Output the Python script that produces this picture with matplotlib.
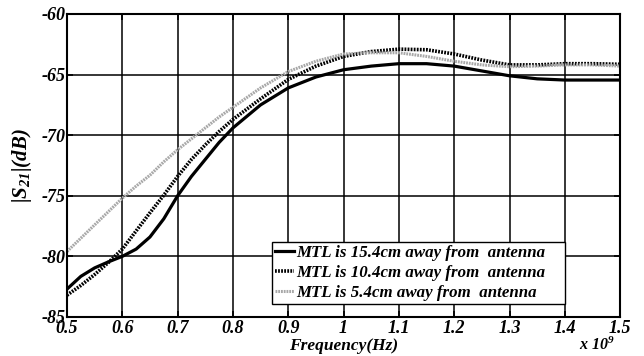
import numpy as np
import matplotlib
matplotlib.use("Agg")
import matplotlib.pyplot as plt

plt.rcParams['font.family'] = ['Liberation Serif', 'DejaVu Serif']
plt.rcParams['font.weight'] = 'bold'
plt.rcParams['font.style'] = 'italic'
plt.rcParams['axes.unicode_minus'] = False
plt.rcParams['mathtext.fontset'] = 'custom'
plt.rcParams['mathtext.rm'] = 'Liberation Serif:bold:italic'
plt.rcParams['mathtext.it'] = 'Liberation Serif:bold:italic'
plt.rcParams['mathtext.bf'] = 'Liberation Serif:bold:italic'

# frequency in GHz (axis shown as x 10^9 Hz)
freq = [0.500, 0.525, 0.550, 0.575, 0.600, 0.625, 0.650, 0.675, 0.700, 0.725, 0.750,
        0.775, 0.800, 0.850, 0.900, 0.950, 1.000, 1.050, 1.100, 1.150, 1.200, 1.250,
        1.300, 1.350, 1.400, 1.450, 1.500]
s21_154 = [-82.7, -81.65, -80.95, -80.45, -80.0, -79.4, -78.4, -76.9, -75.0, -73.4, -72.0,
           -70.6, -69.4, -67.5, -66.1, -65.2, -64.6, -64.3, -64.1, -64.1, -64.3, -64.7,
           -65.1, -65.35, -65.45, -65.45, -65.45]
s21_104 = [-83.2, -82.4, -81.5, -80.5, -79.4, -77.9, -76.4, -74.95, -73.4, -72.0, -70.8,
           -69.7, -68.7, -67.0, -65.4, -64.3, -63.5, -63.1, -62.9, -62.95, -63.3, -63.8,
           -64.2, -64.2, -64.1, -64.1, -64.15]
s21_54 = [-79.6, -78.5, -77.4, -76.3, -75.2, -74.2, -73.3, -72.2, -71.2, -70.3, -69.4,
          -68.5, -67.7, -66.1, -64.75, -63.9, -63.3, -63.2, -63.2, -63.5, -63.9, -64.2,
          -64.35, -64.3, -64.2, -64.2, -64.3]
labels = ["MTL is 15.4cm away from  antenna",
          "MTL is 10.4cm away from  antenna",
          "MTL is 5.4cm away from  antenna"]
xticks = [0.5, 0.6, 0.7, 0.8, 0.9, 1.0, 1.1, 1.2, 1.3, 1.4, 1.5]
xticklabels = ["0.5", "0.6", "0.7", "0.8", "0.9", "1", "1.1", "1.2", "1.3", "1.4", "1.5"]
yticks = [-85, -80, -75, -70, -65, -60]

fig = plt.figure(figsize=(6.44, 3.56), dpi=100)
ax = fig.add_axes([0.104, 0.1096, 0.859, 0.8511])

ax.plot(freq, s21_154, color='black', linewidth=2.3, label=labels[0])
ax.plot(freq, s21_104, color='black', linewidth=2.6, linestyle=(0, (0.5, 0.35)), label=labels[1])
ax.plot(freq, s21_54, color='#a8a8a8', linewidth=2.2, linestyle=(0, (0.6, 0.3)), label=labels[2])

ax.set_xlim(0.5, 1.5)
ax.set_ylim(-85, -60)
ax.set_xticks(xticks)
ax.set_xticklabels(xticklabels)
ax.set_yticks(yticks)
ax.grid(True, color='black', linewidth=1.1, linestyle='-')
ax.set_axisbelow(True)
for s in ax.spines.values():
    s.set_linewidth(1.5)
ax.tick_params(direction='in', length=4, width=1.2, top=True, right=True,
               labelsize=13, pad=2)
ax.tick_params(axis='y', pad=1)

ax.set_xlabel("Frequency(Hz)", fontsize=12.5, fontweight='bold', fontstyle='italic', va='center')
ax.xaxis.set_label_coords(0.5, -0.097)
ax.set_ylabel(r"$|S_{21}|(dB)$", fontsize=15, va='center')
ax.yaxis.set_label_coords(-0.081, 0.5)

leg = ax.legend(loc='lower left', bbox_to_anchor=(0.37, 0.043, 0.53, 0.2), mode='expand',
                borderaxespad=0, fontsize=12.2, handlelength=1.1, handletextpad=0.15,
                labelspacing=0.22, borderpad=0.2, fancybox=False, framealpha=1,
                edgecolor='black')
leg.get_frame().set_linewidth(1.0)

fig.text(0.927, 0.03, r"$x\ 10^{9}$", fontsize=11.5, ha='center', va='center')

fig.savefig("out.png", dpi=100)
